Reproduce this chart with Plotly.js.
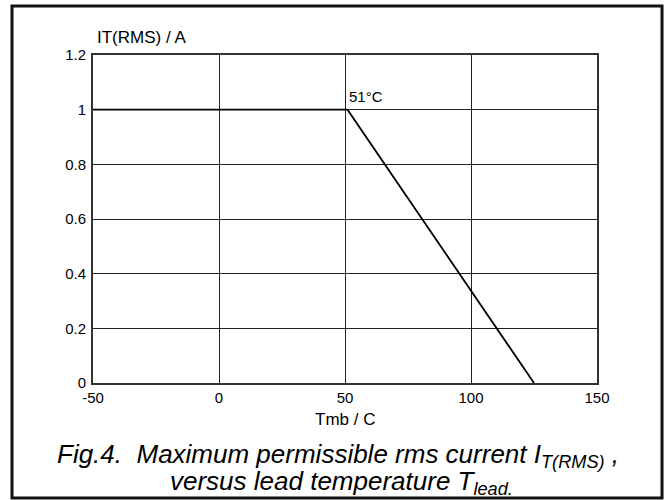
<!DOCTYPE html>
<html>
<head>
<meta charset="utf-8">
<script src="https://cdn.plot.ly/plotly-3.0.1.min.js"></script>
<style>html,body{margin:0;padding:0;background:#fff;}#chart{width:667px;height:500px;}</style>
</head>
<body>
<div id="chart"></div>
<script>
// Data
const temperature = [-50, 51, 125];      // Tmb / C
const currentRMS  = [1, 1, 0];           // IT(RMS) / A
const xTicks = [-50, 0, 50, 100, 150];
const xTickText = ['-50', '0', '50', '100', '150'];
const yTicks = [0, 0.2, 0.4, 0.6, 0.8, 1, 1.2];
const yTickText = ['0', '0.2', '0.4', '0.6', '0.8', '1', '1.2'];
const kneeLabel = '51°C';
const kneeX = 51, kneeY = 1;
const xTitle = 'Tmb / C';
const yTitle = 'IT(RMS) / A';
const captionLine1 = '<i>Fig.4.  Maximum permissible rms current I<sub>T(RMS)</sub> ,</i>';
const captionLine2 = '<i>versus lead temperature T<sub>lead.</sub></i>';

const FAM = 'Liberation Sans, Arial, sans-serif';
const tickFont = {family: FAM, size: 15, color: '#000'};

const trace = {
  x: temperature, y: currentRMS, type: 'scatter', mode: 'lines',
  line: {color: '#000', width: 1.8}, hoverinfo: 'skip', showlegend: false
};

const layout = {
  width: 667, height: 500,
  margin: {l: 93, r: 70, t: 55, b: 117},
  paper_bgcolor: '#fff', plot_bgcolor: '#fff',
  font: tickFont,
  showlegend: false,
  xaxis: {
    range: [-50, 150], tickvals: xTicks, ticktext: xTickText, ticks: '', showgrid: true,
    gridcolor: '#222', gridwidth: 1, zeroline: false,
    showline: true, linecolor: '#333', linewidth: 2, mirror: true,
    tickfont: tickFont, fixedrange: true
  },
  yaxis: {
    range: [0, 1.2], tickvals: yTicks, ticktext: yTickText, ticks: '', showgrid: true,
    gridcolor: '#222', gridwidth: 1, zeroline: false,
    showline: true, linecolor: '#333', linewidth: 2, mirror: true,
    tickfont: tickFont, fixedrange: true, ticklabelstandoff: 2
  },
  shapes: [{
    type: 'rect', xref: 'paper', yref: 'paper',
    x0: -0.1607, x1: 1.129, y0: -0.3506, y1: 1.1494,
    line: {color: '#111', width: 3}, fillcolor: 'rgba(0,0,0,0)', layer: 'below'
  }],
  annotations: [
    {x: kneeX, y: kneeY, xref: 'x', yref: 'y', text: kneeLabel, showarrow: false,
     xanchor: 'left', yanchor: 'bottom', xshift: -1, yshift: 3, font: {family: FAM, size: 15, color: '#000'}},
    {x: 0.004, y: 1.052, xref: 'paper', yref: 'paper', text: yTitle, showarrow: false,
     xanchor: 'left', yanchor: 'middle', font: {family: FAM, size: 17, color: '#000'}},
    {x: 0.5, y: -0.111, xref: 'paper', yref: 'paper', text: xTitle, showarrow: false,
     xanchor: 'center', yanchor: 'middle', font: {family: FAM, size: 17, color: '#000'}},
    {x: 0.486, y: -0.166, xref: 'paper', yref: 'paper', text: captionLine1,
     showarrow: false, xanchor: 'center', yanchor: 'top',
     font: {family: FAM, size: 26, color: '#000'}},
    {x: 0.494, y: -0.2455, xref: 'paper', yref: 'paper', text: captionLine2,
     showarrow: false, xanchor: 'center', yanchor: 'top',
     font: {family: FAM, size: 26, color: '#000'}}
  ]
};

Plotly.newPlot('chart', [trace], layout, {displayModeBar: false, staticPlot: true});
</script>
</body>
</html>
